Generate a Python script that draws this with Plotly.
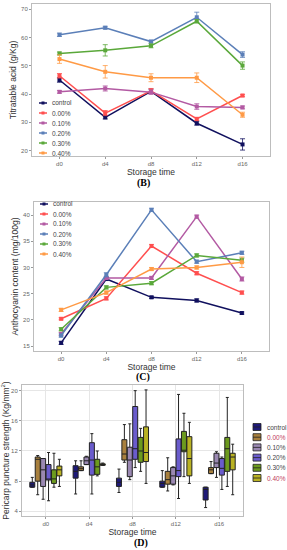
import plotly.graph_objects as go

W, H = 287, 550
def px(x): return x / W
def py(y): return 1 - y / H

days = ["d0", "d4", "d8", "d12", "d16"]
groups = ["control", "0.00%", "0.10%", "0.20%", "0.30%", "0.40%"]

# (B) Titratable acid (g/Kg)
ta_control = [45.0, 31.8, 41.0, 29.7, 22.2]
ta_000 = [46.5, 33.3, 41.2, 31.2, 39.5]
ta_010 = [40.8, 42.0, 40.7, 35.6, 35.3]
ta_020 = [61.0, 63.5, 58.6, 67.2, 54.0]
ta_030 = [54.4, 55.5, 57.1, 65.8, 50.1]
ta_040 = [52.4, 47.9, 45.8, 45.8, 32.7]
ta_err_control = [0.8, 0.6, 0.8, 0.7, 2.0]
ta_err_000 = [0.8, 0.9, 0.8, 0.6, 0.4]
ta_err_010 = [0.5, 0.9, 0.8, 1.0, 0.5]
ta_err_020 = [0.6, 0.5, 0.5, 1.8, 1.0]
ta_err_030 = [0.5, 2.0, 0.7, 0.6, 1.3]
ta_err_040 = [1.5, 2.2, 1.4, 1.7, 0.9]

# (C) Anthocyanin content (mg/100g)
an_control = [15.6, 27.8, 24.3, 23.7, 21.3]
an_000 = [20.2, 24.1, 34.1, 28.9, 25.2]
an_010 = [17.3, 28.0, 28.0, 39.7, 27.8]
an_020 = [17.0, 28.6, 41.0, 31.1, 32.8]
an_030 = [18.2, 26.2, 27.0, 32.3, 31.4]
an_040 = [21.9, 25.2, 29.7, 30.0, 31.0]
an_err_control = [0.3, 0.3, 0.2, 0.3, 0.2]
an_err_000 = [0.2, 0.3, 0.3, 0.3, 0.3]
an_err_010 = [0.3, 0.3, 0.3, 0.3, 0.4]
an_err_020 = [0.3, 0.4, 0.3, 0.3, 0.3]
an_err_030 = [0.3, 0.3, 0.3, 0.3, 0.4]
an_err_040 = [0.3, 0.3, 0.3, 0.3, 1.0]

# (D) Pericarp puncture strength box statistics, per group across days
ps_q1 = {
    "control": [7.2, 8.4, 7.3, 7.2, 5.5],
    "0.00%": [8.0, 9.4, 10.8, 7.6, 9.0],
    "0.10%": [7.3, 10.2, 8.6, 7.6, 9.8],
    "0.20%": [8.15, 8.8, 10.9, 8.6, 8.8],
    "0.30%": [7.7, 8.9, 10.5, 11.9, 9.3],
    "0.40%": [8.7, 10.1, 10.6, 8.7, 9.5],
}
ps_median = {
    "control": [7.5, 9.3, 7.85, 7.7, 6.9],
    "0.00%": [10.9, 9.65, 11.6, 8.2, 9.5],
    "0.10%": [9.5, 10.7, 10.8, 8.7, 10.4],
    "0.20%": [8.2, 10.8, 12.3, 9.4, 9.7],
    "0.30%": [8.3, 9.9, 12.0, 12.1, 12.3],
    "0.40%": [9.5, 10.2, 11.8, 11.0, 11.2],
}
ps_q3 = {
    "control": [7.85, 10.05, 8.4, 8.0, 7.2],
    "0.00%": [11.2, 9.9, 13.5, 9.3, 9.8],
    "0.10%": [11.0, 11.2, 12.5, 9.8, 11.7],
    "0.20%": [10.2, 13.1, 17.9, 13.6, 11.0],
    "0.30%": [9.5, 10.9, 13.8, 14.6, 13.8],
    "0.40%": [10.0, 10.3, 15.2, 13.9, 11.7],
}
ps_low = {
    "control": [7.2, 6.3, 6.5, 7.2, 4.5],
    "0.00%": [6.2, 9.4, 10.5, 6.7, 9.0],
    "0.10%": [5.6, 10.2, 8.2, 7.5, 8.5],
    "0.20%": [5.4, 6.3, 9.8, 5.7, 6.9],
    "0.30%": [7.2, 8.7, 9.3, 8.6, 7.3],
    "0.40%": [7.3, 10.1, 7.7, 7.7, 6.2],
}
ps_high = {
    "control": [8.5, 10.7, 9.6, 9.4, 7.2],
    "0.00%": [11.4, 10.7, 15.5, 11.1, 10.6],
    "0.10%": [11.0, 11.3, 15.6, 9.9, 11.9],
    "0.20%": [11.8, 14.3, 20.0, 19.5, 11.2],
    "0.30%": [11.7, 12.0, 15.0, 17.0, 19.1],
    "0.40%": [10.9, 10.4, 20.1, 15.8, 12.9],
}

line_colors = ["#10105e", "#ff4f4f", "#b35aa3", "#5b7fb8", "#5aa83a", "#ff9a45"]
box_colors = ["#1e1a78", "#a8803e", "#9a88b2", "#6a5ccc", "#6c9a1e", "#b9b223"]

ta = [ta_control, ta_000, ta_010, ta_020, ta_030, ta_040]
ta_err = [ta_err_control, ta_err_000, ta_err_010, ta_err_020, ta_err_030, ta_err_040]
an = [an_control, an_000, an_010, an_020, an_030, an_040]
an_err = [an_err_control, an_err_000, an_err_010, an_err_020, an_err_030, an_err_040]

fig = go.Figure()

for i, g in enumerate(groups):
    fig.add_trace(go.Scatter(
        x=days, y=ta[i], mode="lines+markers", name=g, showlegend=False,
        line=dict(color=line_colors[i], width=1.5),
        marker=dict(symbol="square", size=4, color=line_colors[i]),
        error_y=dict(type="data", array=ta_err[i], color=line_colors[i], thickness=0.8, width=2.5),
        xaxis="x", yaxis="y"))

for i, g in enumerate(groups):
    fig.add_trace(go.Scatter(
        x=days, y=an[i], mode="lines+markers", name=g, showlegend=False,
        line=dict(color=line_colors[i], width=1.5),
        marker=dict(symbol="square", size=4, color=line_colors[i]),
        error_y=dict(type="data", array=an_err[i], color=line_colors[i], thickness=0.8, width=2.5),
        xaxis="x2", yaxis="y2"))

for i, g in enumerate(groups):
    fig.add_trace(go.Box(
        x=days, q1=ps_q1[g], median=ps_median[g], q3=ps_q3[g],
        lowerfence=ps_low[g], upperfence=ps_high[g], name=g, showlegend=False,
        fillcolor=box_colors[i], line=dict(color="#222222", width=1),
        whiskerwidth=0.6, xaxis="x3", yaxis="y3"))

tickfont = dict(family="Liberation Sans, Arial", size=6, color="#666666")
titlefont = dict(family="Liberation Sans, Arial", size=8.5, color="#333333")

def xax(dom):
    return dict(domain=dom, type="category", categoryorder="array", categoryarray=days,
                range=[-0.6, 4.6], showline=True, mirror=True, linecolor="#bdbdbd", linewidth=1,
                ticks="outside", ticklen=2, tickcolor="#999999", tickfont=tickfont,
                showgrid=False, zeroline=False,
                title=dict(text="Storage time", font=titlefont, standoff=1))

def yax(dom, rng, dtick, title):
    return dict(domain=dom, range=rng, dtick=dtick, showline=True, mirror=True,
                linecolor="#bdbdbd", linewidth=1, ticks="outside", ticklen=2,
                tickcolor="#999999", tickfont=tickfont, showgrid=False, zeroline=False,
                title=dict(text=title, font=titlefont, standoff=3))

xa1 = xax([px(32), px(270)]); xa1["anchor"] = "y"
ya1 = yax([py(156), py(4)], [18.1, 71.9], 10, "Titratable acid (g/Kg)"); ya1["anchor"] = "x"
xa2 = xax([px(34), px(269)]); xa2["anchor"] = "y2"
ya2 = yax([py(351), py(202)], [14.05, 42.5], 5, "Anthocyanin content (mg/100g)"); ya2["anchor"] = "x2"
xa3 = xax([px(22), px(243)]); xa3["anchor"] = "y3"; xa3["range"] = [-0.55, 4.55]
xa3["showgrid"] = True; xa3["gridcolor"] = "#e6e6e6"
ya3 = yax([py(516), py(385)], [3.38, 20.75], 4, "Pericarp puncture strength (Kg/mm<sup>2</sup>)")
ya3["anchor"] = "x3"; ya3["showgrid"] = True; ya3["gridcolor"] = "#e6e6e6"

shapes = []
annotations = []
legfont = dict(family="Liberation Sans, Arial", size=6.5, color="#444444")

# Line legends for (B) and (C)
for (x0, y0) in [(39, 103), (40, 204)]:
    for i, g in enumerate(groups):
        yy = y0 + i * 10
        shapes.append(dict(type="line", xref="paper", yref="paper",
                           x0=px(x0), x1=px(x0 + 8), y0=py(yy), y1=py(yy),
                           line=dict(color=line_colors[i], width=1.5)))
        shapes.append(dict(type="rect", xref="paper", yref="paper",
                           x0=px(x0 + 2.5), x1=px(x0 + 5.5), y0=py(yy + 1.5), y1=py(yy - 1.5),
                           fillcolor=line_colors[i], line=dict(width=0)))
        annotations.append(dict(text=g, xref="paper", yref="paper", x=px(x0 + 11), y=py(yy),
                                xanchor="left", yanchor="middle", showarrow=False, font=legfont))

# Box legend for (D)
for i, g in enumerate(groups):
    yy = 427 + i * 10.2
    shapes.append(dict(type="rect", xref="paper", yref="paper",
                       x0=px(253), x1=px(261), y0=py(yy + 3.5), y1=py(yy - 3.5),
                       fillcolor=box_colors[i], line=dict(color="#222222", width=0.8)))
    shapes.append(dict(type="line", xref="paper", yref="paper",
                       x0=px(253), x1=px(261), y0=py(yy), y1=py(yy),
                       line=dict(color="#222222", width=0.8)))
    col = "#c0405a" if g in ("0.00%", "0.40%") else "#444444"
    annotations.append(dict(text=g, xref="paper", yref="paper", x=px(265), y=py(yy),
                            xanchor="left", yanchor="middle", showarrow=False,
                            font=dict(family="Liberation Sans, Arial", size=6.5, color=col)))

capfont = dict(family="Liberation Serif, Times New Roman", size=10, color="#000000")
for txt, xx, yy in [("(B)", 143, 183), ("(C)", 143, 377), ("(D)", 141, 543)]:
    annotations.append(dict(text="<b>" + txt + "</b>", xref="paper", yref="paper",
                            x=px(xx), y=py(yy), xanchor="center", yanchor="middle",
                            showarrow=False, font=capfont))

fig.update_layout(
    width=W, height=H, margin=dict(l=0, r=0, t=0, b=0),
    paper_bgcolor="white", plot_bgcolor="white",
    xaxis=xa1, yaxis=ya1, xaxis2=xa2, yaxis2=ya2, xaxis3=xa3, yaxis3=ya3,
    boxmode="group", boxgap=0.25, boxgroupgap=0.08,
    shapes=shapes, annotations=annotations, showlegend=False,
)

fig.write_html("out.html", config={"displayModeBar": False},
               post_script="document.body.style.margin='0px';document.body.style.overflow='hidden';")
